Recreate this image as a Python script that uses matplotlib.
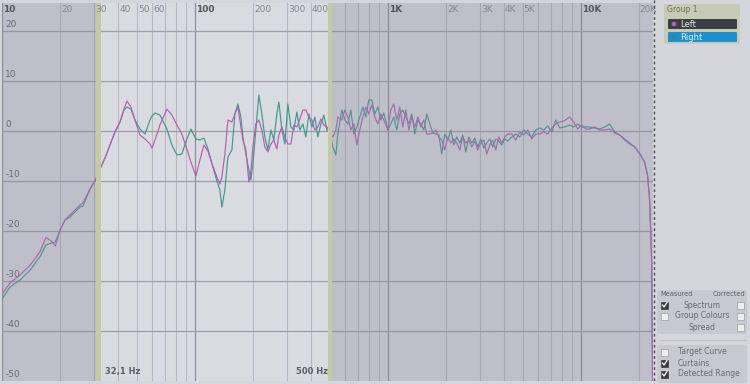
import matplotlib
matplotlib.use("Agg")
import matplotlib.pyplot as plt
from matplotlib.patches import FancyBboxPatch, Rectangle, Circle
from matplotlib.transforms import blended_transform_factory

# ---------------- data ----------------
freq_hz = [10, 11.0, 12.4, 14.0, 15.7, 16.9, 18.0, 18.9, 20.0, 21.2, 22.5, 25.4, 26.3, 28.6, 30.3,
           32.2, 34.2, 36.3, 38.5, 40.9,
           42.9, 44.4, 46.6, 48.9, 51.9, 55.1, 58.5, 59.9, 62.1, 65.9, 71.6, 76.0, 80.7, 85.6,
           90.9, 95.3,
           101.2, 106.2, 111.3, 116.8, 122.5, 130.0, 134.8, 138.0, 143.0, 148.3, 155.5, 161.2,
           167.0, 173.1, 177.3, 183.8, 190.5, 195.1, 199.8, 207.0, 214.6, 222.4, 230.5, 238.9,
           247.6, 256.6, 266.0, 272.4, 282.3, 292.6, 303.3, 314.4, 325.8, 337.7, 350.0, 362.8,
           376.0, 389.7, 403.9, 418.7, 433.9, 449.8, 466.0, 483.2, 500.6, 518.8, 537.7, 550.7,
           577.6, 598.7, 620.5, 643.1, 666.6, 690.9, 716.1, 742.2, 769.2, 797.2, 826.3, 856.3,
           887.6, 919.9, 953.4, 1000, 1036, 1074, 1113, 1154, 1196, 1240, 1285, 1332, 1380,
           1431, 1483, 1537, 1593, 1651, 1711, 1773, 1838, 1905, 1974, 2046, 2121, 2198, 2278,
           2361, 2447, 2536, 2629, 2724, 2824, 2926, 3033, 3144, 3258, 3377, 3500, 3628, 3760,
           3897, 4039, 4187, 4390, 4605, 4831, 5066, 5314, 5574, 5846, 6132, 6431, 6746, 7075,
           7422, 7784, 8263, 8770, 9199, 9649, 10120, 10615, 11134, 11818, 12545, 13316, 14135,
           15004, 15926, 16905, 17944, 19047, 20218, 21461, 22236, 22773, 23323, 23603]

left_db = [-32.6, -30.4, -28.8, -26.8, -24.2, -21.3, -22.0, -23.0, -19.8, -17.8, -16.8, -14.8, -14.4,
           -11.6, -10.0, -7.6, -5.4, -2.8, -0.2, 1.8,
           4.4, 6.0, 4.8, 2.2, -0.8, -1.6, -2.6, -3.4, -1.8, 1.2, 4.4, 3.2, 1.2, -0.6, -3.6, -6.2,
           -9.0, -5.8, -2.8, -4.0, -6.5, -9.2, -10.6, -9.2, -4.6, 2.2, 1.8, 3.4,
           4.8, 0.8, -1.8, -3.8, -10.2, -8.0, -3.2, 1.4, 2.2, 0.2, -3.2, -4.2,
           -2.6, -1.8, -3.6, -0.8, 0.8, -1.2, -2.6, -2.6, 1.2, 0.8, 2.4, 4.2,
           4.2, 2.8, 2.2, 0.2, 0.8, 2.4, 1.2, 0.8, -0.2, -1.2, 0.2, 2.8,
           2.2, 4.2, 2.8, 0.2, 1.4, -2.8, 0.2, 2.8, 4.8, 3.4, 5.2, 2.8,
           1.4, 3.4, 2.2, 0.2, 4.2, 5.4, 2.2, 4.8, 0.8, 4.2, 0.2, 2.8, 0.8,
           2.8, 0.8, 2.2, -0.6, -0.6, -0.4, 0.2, -1.2, -1.8, -3.8, -1.2, -2.4, -1.6, -2.4,
           -3.8, -1.2, -2.4, -1.8, -3.2, -2.0, -3.8, -2.4, -1.8, -4.6, -2.8, -1.8, -3.8, -1.2,
           -2.4, -1.2, -0.6, -0.6, -1.8, -0.2, -0.8, 0.2, -1.6, -0.6, -0.6, -0.2, -0.6, 0.6,
           1.4, 1.8, 2.1, 2.8, 1.8, 0.4, 1.2, 0.4, 0.4, 0.8, 0.2, 0.2, 0.4,
           -0.4, -0.8, -1.6, -2.4, -3.2, -4.4, -6.4, -9.0, -14.0, -26.0, -52.0]

right_db = [-33.6, -31.2, -29.8, -27.8, -25.2, -22.8, -22.4, -22.2, -19.8, -17.8, -17.2, -15.2, -15.0,
            -11.6, -10.0, -7.6, -5.4, -2.8, -0.2, 1.8,
            4.2, 4.8, 4.4, 2.2, 0.4, -0.6, 2.2, 3.0, 3.6, 3.2, 0.4, -2.8, -4.8, -4.6, -1.6, 0.4,
            -1.6, -1.8, -1.4, -3.6, -6.5, -10.0, -11.8, -15.2, -11.8, -5.2, -3.8, 3.4,
            5.4, 2.8, -1.2, -4.6, -7.8, -9.8, -6.6, 0.2, 7.2, 3.4, -1.2, -3.8,
            0.2, -1.8, 3.4, 5.8, 0.2, -2.6, 5.4, 0.8, 0.2, 3.8, 0.2, 1.4,
            -1.2, 3.4, 0.8, 2.8, -1.2, 1.4, 3.2, 0.2, -0.2, -3.2, -4.8, -0.6,
            4.2, 2.2, 1.4, 4.2, -0.6, 0.8, 2.8, 4.8, 2.8, 6.2, 6.2, 3.4,
            4.8, 2.2, 3.6, 0.2, 1.4, 2.8, 0.2, 3.4, 4.2, 2.8, 1.4, 3.4, -0.6,
            2.2, 1.4, 0.2, 3.4, 1.4, -0.4, -0.6, -0.8, -4.6, -0.6, -1.8, 0.2, -2.8, -1.2,
            -2.4, -0.8, -4.2, -1.2, -2.4, -1.4, -3.2, -1.6, -3.4, -2.4, -1.6, -3.2, -1.6, -2.0,
            -2.8, -1.6, -2.0, -1.2, -0.6, -1.2, 0.2, -0.6, -1.2, 0.2, 0.6, 0.2, 1.0, -0.2,
            2.2, 0.6, 0.8, 1.2, 0.8, 1.4, 0.8, 0.8, 0.8, 0.6, 0.4, 0.8, 1.4,
            -0.2, -0.8, -1.8, -2.6, -3.2, -4.6, -6.2, -9.0, -14.0, -26.0, -52.0]

x_minor = [20, 30, 40, 50, 60, 70, 80, 90, 200, 300, 400, 500, 600, 700, 800, 900,
           2000, 3000, 4000, 5000, 6000, 7000, 8000, 9000, 20000]
x_major = [10, 100, 1000, 10000]
x_labels = {10: "10", 20: "20", 30: "30", 40: "40", 50: "50", 60: "60", 100: "100",
            200: "200", 300: "300", 400: "400", 1000: "1K", 2000: "2K", 3000: "3K",
            4000: "4K", 5000: "5K", 10000: "10K", 20000: "20K"}
y_ticks = [20, 10, 0, -10, -20, -30, -40, -50]
curtain_low = 32.1
curtain_high = 500
f_min, f_max = 10, 23700

# ---------------- figure ----------------
W, H = 750, 384
fig = plt.figure(figsize=(W / 100, H / 100), dpi=100)
fig.patch.set_facecolor("#d5d6db")

ax = fig.add_axes([2 / W, 3 / H, 651 / W, 378 / H])
ax.set_facecolor("#dadbe0")
ax.set_xscale("log")
ax.set_xlim(f_min, f_max)
ax.set_ylim(-50, 25.6)
for s in ax.spines.values():
    s.set_visible(False)
ax.set_xticks([])
ax.set_yticks([])
ax.minorticks_off()

for f in x_minor:
    ax.axvline(f, color="#b8b9c0", lw=0.8, zorder=1)
for f in x_major:
    ax.axvline(f, color="#8e8f97", lw=0.9, zorder=1)
for v in y_ticks[:-1]:
    ax.axhline(v, color="#9fa0a7", lw=0.9, zorder=1)

ax.plot(freq_hz, right_db, color="#3a9c8a", lw=0.85, zorder=2)
ax.plot(freq_hz, left_db, color="#b65db4", lw=0.85, zorder=2)

# curtains
ax.axvspan(f_min, curtain_low, color="#85879a", alpha=0.33, lw=0, zorder=3)
ax.axvspan(curtain_high, f_max, color="#85879a", alpha=0.33, lw=0, zorder=3)
ax.axvspan(curtain_low / 1.045, curtain_low * 1.01, color="#c6caa0", lw=0, zorder=4)
ax.axvspan(curtain_high / 1.02, curtain_high * 1.025, color="#c6caa0", lw=0, zorder=4)

# labels
bt = blended_transform_factory(ax.transData, ax.transAxes)
for f, lab in x_labels.items():
    major = f in x_major
    ax.text(f * 1.012, 0.984, lab, transform=bt, ha="left", va="center",
            fontsize=6.5, color="#55565c" if major else "#85868d",
            fontweight="bold" if major else "normal", zorder=5)
bt2 = blended_transform_factory(ax.transAxes, ax.transData)
for v in y_ticks:
    ax.text(0.005, v + 0.35, str(v), transform=bt2, ha="left", va="bottom",
            fontsize=6.5, color="#6a6b72", zorder=5)
ax.text(curtain_low * 1.06, 0.012, "32,1 Hz", transform=bt, ha="left", va="bottom",
        fontsize=6, fontweight="bold", color="#5e5f66", zorder=5)
ax.text(curtain_high / 1.025, 0.012, "500 Hz", transform=bt, ha="right", va="bottom",
        fontsize=6, fontweight="bold", color="#5e5f66", zorder=5)

# ---------------- UI panel ----------------
ui = fig.add_axes([0, 0, 1, 1])
ui.set_xlim(0, W)
ui.set_ylim(H, 0)
ui.axis("off")
ui.patch.set_alpha(0)

ui.plot([653.5, 653.5], [0, H], color="#4d4e55", lw=1, ls=(0, (2, 2)))

ui.add_patch(FancyBboxPatch((664, 4), 76, 40, boxstyle="round,pad=0,rounding_size=2",
                            fc="#c9cab5", ec="none"))
ui.text(667, 10, "Group 1", fontsize=5.5, color="#6a6b60", va="center", ha="left")
ui.add_patch(FancyBboxPatch((668, 19), 69, 10, boxstyle="round,pad=0,rounding_size=1",
                            fc="#3d3f46", ec="none"))
ui.add_patch(Circle((674, 24), 2.3, fc="#b65db4", ec="none"))
ui.text(680, 24.3, "Left", fontsize=6, color="#e8e8ee", va="center", ha="left")
ui.add_patch(FancyBboxPatch((668, 32), 69, 10, boxstyle="round,pad=0,rounding_size=1",
                            fc="#1b8fcf", ec="none"))
ui.add_patch(Circle((674, 37), 2.3, fc="#2f8f7a", ec="none"))
ui.text(680, 37.3, "Right", fontsize=6, color="#e8eef5", va="center", ha="left")

ui.add_patch(FancyBboxPatch((657, 290), 90, 44, boxstyle="round,pad=0,rounding_size=2",
                            fc="#c8c9d0", ec="none"))
ui.add_patch(FancyBboxPatch((657, 345), 90, 38, boxstyle="round,pad=0,rounding_size=2",
                            fc="#c8c9d0", ec="none"))
ui.plot([660, 745], [340, 340], color="#c2c3c9", lw=0.8)

ui.text(660, 294, "Measured", fontsize=4.8, color="#606168", va="center", ha="left")
ui.text(745, 294, "Corrected", fontsize=4.8, color="#606168", va="center", ha="right")


def checkbox(x, y, checked):
    if checked:
        ui.add_patch(Rectangle((x, y - 3.5), 7, 7, fc="#3a3c42", ec="#3a3c42", lw=0.5))
        ui.plot([x + 1.5, x + 3, x + 6], [y, y + 2, y - 2.5], color="white", lw=0.9)
    else:
        ui.add_patch(Rectangle((x, y - 3.5), 7, 7, fc="#eeeef1", ec="#9c9da4", lw=0.5))


rows1 = [("Spectrum", 305, True, False), ("Group Colours", 316, False, False),
         ("Spread", 327, None, False)]
for name, yy, lchk, rchk in rows1:
    if lchk is not None:
        checkbox(661, yy, lchk)
    checkbox(737, yy, rchk)
    ui.text(702, yy, name, fontsize=5.5, color="#6a6b72", va="center", ha="center")

rows2 = [("Target Curve", 352, False), ("Curtains", 363, True), ("Detected Range", 374, True)]
for name, yy, chk in rows2:
    checkbox(661, yy, chk)
    ui.text(678, yy, name, fontsize=5.5, color="#6a6b72", va="center", ha="left")

fig.savefig("out.png", dpi=100, facecolor=fig.get_facecolor())
